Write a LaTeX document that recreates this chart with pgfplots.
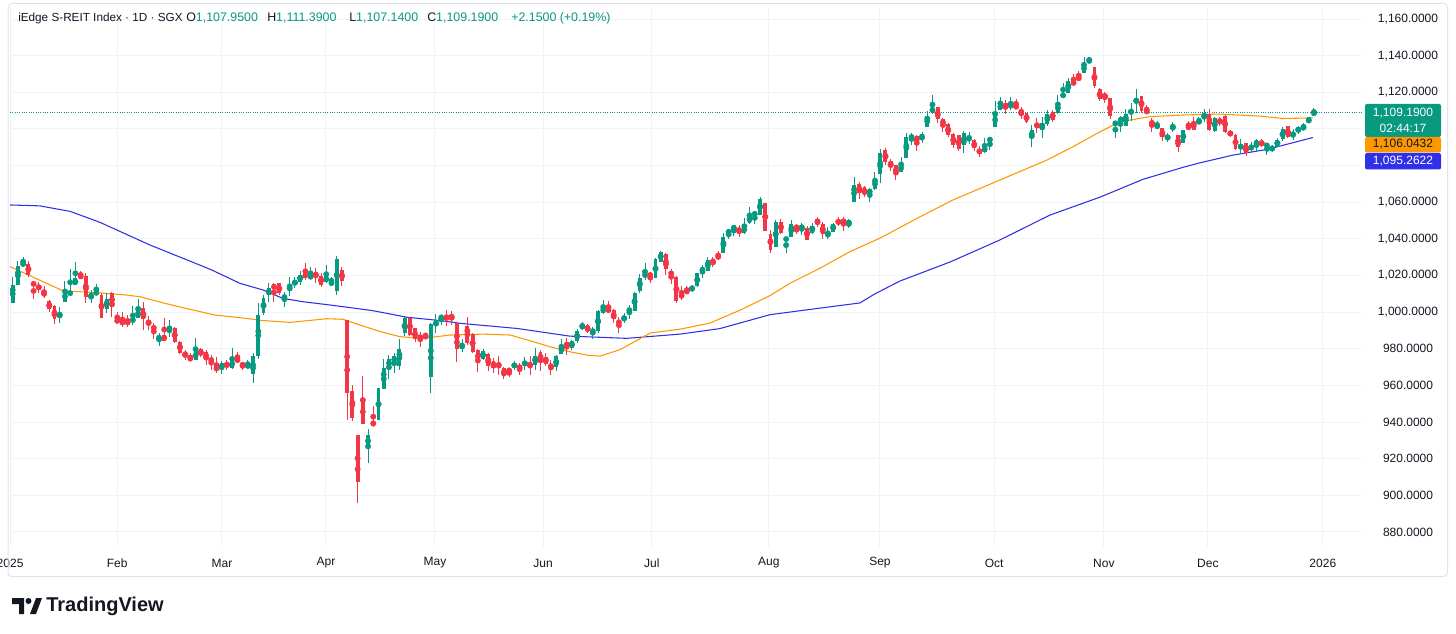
\documentclass[border=0pt]{standalone}
\usepackage{pgfplots}
\pgfplotsset{compat=1.18}
\usepackage{pgfplotstable}
\usepackage{fontspec}
\setmainfont{Liberation Sans}
\definecolor{upcol}{HTML}{089981}
\definecolor{dncol}{HTML}{F23645}
\definecolor{macol}{HTML}{FF9800}
\definecolor{mbcol}{HTML}{3030E8}
\definecolor{txt}{HTML}{131722}
\definecolor{gridc}{HTML}{F0F3FA}
\definecolor{framec}{HTML}{E0E3EB}

\pgfplotstableread{
i o h l c
0 1005.2 1019.0 1005.2 1014.8
1 1014.8 1028.1 1014.8 1025.2
2 1025.4 1030.3 1024.8 1027.2
3 1026.1 1028.1 1019.0 1020.5
4 1016.1 1016.1 1007.0 1014.8
5 1014.6 1016.6 1010.6 1012.5
6 1010.6 1014.3 1007.5 1009.4
7 1006.1 1006.6 1000.3 1001.5
8 1003.4 1003.9 993.5 996.1
9 997.9 1003.0 994.3 998.5
10 1005.7 1017.0 1005.7 1011.5
11 1009.2 1023.4 1009.2 1011.5
12 1014.8 1027.6 1014.8 1018.5
13 1021.2 1022.7 1017.9 1017.9
14 1019.7 1021.2 1004.8 1008.5
15 1008.6 1012.1 1004.8 1009.4
16 1009.4 1015.4 1009.4 1011.7
17 1009.4 1010.3 996.6 996.6
18 1001.5 1010.3 999.7 1007.0
19 1010.6 1011.2 997.5 1003.0
20 995.7 1000.3 993.9 994.8
21 994.8 1000.3 991.7 993.9
22 994.8 998.4 992.1 993.9
23 995.5 1003.3 993.0 995.9
24 996.6 1007.0 996.6 1002.1
25 1002.1 1005.7 990.2 996.1
26 995.3 997.9 990.2 993.5
27 991.7 993.9 985.1 991.2
28 985.1 988.8 981.5 987.0
29 987.5 996.6 984.4 984.4
30 988.4 995.7 986.6 991.7
31 991.2 991.7 983.3 983.9
32 983.9 984.4 977.1 977.9
33 978.4 979.3 973.9 975.7
34 976.0 977.5 973.0 973.5
35 973.9 985.7 973.9 979.0
36 979.7 980.2 975.3 976.6
37 978.4 979.3 971.1 974.2
38 974.0 976.6 968.4 973.7
39 970.6 975.3 966.9 968.0
40 968.8 973.5 966.2 972.0
41 971.7 973.9 968.4 971.1
42 969.3 980.2 968.8 974.2
43 974.2 978.4 972.4 973.5
44 972.4 973.0 968.4 970.2
45 970.2 973.9 969.3 971.1
46 966.2 977.9 961.1 976.1
47 976.1 1004.8 974.2 998.5
48 999.4 1009.4 998.5 1007.5
49 1009.4 1016.1 1005.7 1013.0
50 1015.2 1016.1 1005.7 1012.5
51 1015.7 1016.1 1009.4 1010.3
52 1008.0 1011.2 1003.0 1008.5
53 1011.7 1019.4 1008.8 1014.3
54 1014.8 1019.4 1013.0 1017.2
55 1016.6 1022.7 1014.8 1020.3
56 1021.7 1027.0 1017.6 1018.5
57 1017.9 1024.8 1017.6 1020.8
58 1020.8 1023.9 1016.1 1020.3
59 1019.7 1021.2 1013.9 1014.8
60 1016.6 1025.7 1015.7 1019.7
61 1015.7 1019.4 1014.8 1016.0
62 1011.7 1030.7 1009.4 1028.8
63 1023.0 1024.8 1014.3 1017.2
64 995.7 995.7 941.1 955.7
65 957.1 960.2 940.8 942.0
66 932.9 932.9 895.6 907.5
67 952.4 965.1 938.9 938.9
68 926.6 936.0 917.5 932.9
69 940.8 948.8 937.1 937.8
70 941.1 958.4 941.1 958.4
71 957.9 974.2 957.9 969.3
72 969.9 976.6 963.3 974.3
73 972.1 977.5 966.6 976.1
74 970.6 985.2 968.4 979.7
75 988.8 997.5 987.0 996.6
76 996.6 997.5 987.0 987.5
77 991.2 991.2 983.9 985.2
78 987.0 989.3 981.2 985.7
79 987.0 988.8 985.7 986.3
80 964.4 993.9 956.0 993.5
81 992.4 999.0 988.4 995.7
82 996.6 999.0 993.0 997.5
83 997.9 1001.2 992.4 996.6
84 997.9 1000.8 993.0 997.2
85 993.9 994.2 972.9 979.7
86 979.7 985.1 978.4 982.9
87 992.4 997.5 982.0 983.3
88 987.9 988.4 977.5 978.4
89 979.3 979.7 967.5 972.4
90 974.2 979.7 973.8 978.9
91 977.1 977.5 968.0 970.6
92 973.5 974.7 966.9 969.3
93 971.7 976.0 965.7 970.7
94 969.3 969.8 963.3 965.7
95 968.4 969.3 964.4 968.0
96 970.6 973.5 968.4 971.2
97 970.6 972.0 965.7 969.3
98 971.1 975.7 968.4 972.9
99 972.4 976.0 965.7 970.2
100 971.1 980.2 968.4 976.0
101 978.4 979.3 968.0 972.9
102 975.3 977.5 970.6 971.7
103 971.7 973.9 965.7 969.3
104 969.9 976.6 968.0 976.0
105 977.1 985.1 977.1 982.0
106 983.9 985.7 976.6 980.7
107 980.7 984.7 979.6 984.4
108 984.4 990.6 982.9 989.8
109 990.6 994.8 990.2 993.6
110 992.9 993.5 988.7 989.3
111 988.6 992.0 985.6 990.6
112 989.8 1001.1 988.4 1000.8
113 999.7 1006.6 999.0 1002.6
114 1002.0 1006.2 999.3 1000.2
115 1001.1 1001.5 993.8 996.0
116 994.8 997.1 988.7 994.2
117 995.3 999.3 994.2 997.8
118 1000.2 1003.8 996.0 1002.0
119 1000.8 1011.1 1000.8 1010.2
120 1011.7 1020.8 1010.6 1018.4
121 1019.7 1026.6 1017.5 1020.8
122 1020.8 1022.0 1015.7 1019.7
123 1018.4 1029.3 1018.4 1028.8
124 1027.5 1033.5 1027.5 1033.0
125 1031.7 1032.1 1020.2 1023.3
126 1022.6 1023.3 1015.3 1019.7
127 1019.0 1019.7 1005.1 1006.2
128 1009.9 1014.2 1006.9 1008.0
129 1012.0 1014.2 1009.9 1010.6
130 1011.7 1014.8 1011.1 1014.2
131 1014.2 1021.1 1013.9 1021.1
132 1022.0 1025.7 1018.4 1024.4
133 1022.6 1029.9 1022.6 1028.4
134 1028.4 1029.9 1024.4 1027.0
135 1031.1 1033.5 1028.4 1029.3
136 1032.4 1043.0 1032.4 1041.2
137 1043.3 1045.2 1039.7 1044.4
138 1044.4 1047.5 1041.5 1047.5
139 1045.7 1047.5 1040.8 1043.9
140 1043.3 1051.2 1042.6 1047.0
141 1048.8 1057.5 1048.1 1052.4
142 1053.0 1054.8 1048.1 1054.3
143 1053.0 1062.6 1053.0 1061.5
144 1059.7 1059.7 1044.4 1044.4
145 1042.6 1044.8 1032.4 1033.9
146 1035.3 1050.3 1035.3 1049.4
147 1049.4 1050.6 1042.6 1043.0
148 1039.0 1040.8 1032.4 1040.8
149 1041.2 1050.3 1041.2 1048.1
150 1047.0 1047.5 1042.6 1045.7
151 1045.2 1048.8 1042.1 1047.5
152 1045.7 1047.0 1039.3 1039.3
153 1043.0 1048.8 1042.6 1047.0
154 1050.6 1051.7 1046.3 1048.5
155 1048.1 1049.4 1039.7 1042.6
156 1042.0 1046.3 1039.7 1042.6
157 1043.9 1048.8 1043.9 1048.1
158 1049.9 1051.7 1047.0 1048.5
159 1049.9 1052.1 1044.4 1049.3
160 1047.5 1050.6 1045.7 1050.3
161 1060.3 1073.6 1060.3 1069.4
162 1069.9 1071.2 1061.5 1065.2
163 1068.5 1068.8 1062.6 1063.9
164 1064.5 1067.6 1060.3 1067.0
165 1067.0 1076.7 1066.7 1073.0
166 1075.4 1088.9 1070.7 1087.0
167 1088.5 1089.4 1080.3 1082.1
168 1082.7 1083.4 1077.2 1079.0
169 1080.3 1080.3 1072.1 1074.8
170 1076.6 1084.5 1076.6 1080.8
171 1083.9 1097.9 1083.9 1095.4
172 1095.4 1097.9 1091.2 1095.8
173 1096.1 1096.7 1088.1 1092.5
174 1094.3 1098.5 1092.1 1097.2
175 1101.2 1110.0 1101.2 1107.0
176 1108.9 1118.5 1108.1 1111.8
177 1111.8 1111.8 1103.4 1105.2
178 1105.2 1105.8 1098.5 1102.1
179 1102.7 1103.0 1095.4 1096.7
180 1097.2 1097.9 1089.4 1091.2
181 1096.7 1096.7 1088.1 1088.8
182 1091.2 1099.0 1087.0 1097.6
183 1094.5 1098.5 1091.7 1094.9
184 1093.9 1094.3 1088.1 1089.4
185 1088.8 1090.7 1084.8 1086.7
186 1087.6 1094.9 1086.7 1090.3
187 1094.0 1094.9 1088.5 1094.3
188 1100.9 1115.5 1100.9 1109.0
189 1110.3 1117.6 1110.3 1114.0
190 1114.3 1115.8 1108.2 1111.2
191 1111.8 1117.3 1110.3 1113.6
192 1112.5 1116.2 1111.2 1111.8
193 1110.3 1111.8 1105.2 1108.5
194 1108.5 1108.9 1103.1 1104.0
195 1094.9 1102.1 1090.0 1099.4
196 1103.1 1105.8 1098.0 1100.9
197 1100.3 1106.7 1094.9 1103.4
198 1102.7 1110.3 1101.6 1108.2
199 1109.4 1110.3 1104.0 1104.9
200 1108.9 1118.5 1108.2 1114.0
201 1117.6 1125.3 1117.6 1119.1
202 1119.4 1127.6 1119.4 1126.4
203 1125.8 1130.0 1124.0 1124.5
204 1128.2 1131.8 1126.4 1127.1
205 1130.4 1139.5 1130.4 1135.8
206 1135.8 1139.5 1135.8 1138.5
207 1133.6 1133.6 1122.2 1123.4
208 1121.6 1122.2 1115.4 1116.2
209 1118.5 1120.3 1114.3 1117.6
210 1116.7 1116.7 1105.2 1107.0
211 1101.6 1104.5 1094.8 1104.5
212 1103.4 1107.0 1098.5 1106.3
213 1101.6 1110.7 1101.6 1108.1
214 1108.1 1114.3 1104.5 1110.7
215 1114.3 1121.6 1108.9 1116.7
216 1118.0 1118.0 1108.9 1110.0
217 1110.3 1113.1 1108.1 1108.9
218 1103.9 1105.8 1098.5 1102.7
219 1100.3 1104.5 1099.8 1102.7
220 1100.3 1100.3 1093.6 1095.4
221 1093.9 1097.9 1093.0 1096.7
222 1099.8 1103.9 1098.5 1101.6
223 1096.7 1096.7 1087.6 1090.3
224 1092.5 1099.4 1092.5 1099.4
225 1101.6 1104.5 1099.4 1100.3
226 1103.9 1106.3 1099.4 1099.4
227 1103.0 1106.3 1102.7 1104.8
228 1105.2 1110.7 1103.9 1108.1
229 1108.1 1110.7 1099.0 1099.2
230 1098.8 1106.3 1098.5 1105.8
231 1104.8 1106.6 1101.5 1103.9
232 1107.0 1107.5 1097.9 1098.5
233 1098.5 1099.4 1095.7 1096.6
234 1096.6 1097.2 1088.4 1088.8
235 1088.8 1094.3 1086.6 1091.7
236 1092.1 1092.1 1085.2 1087.0
237 1088.4 1093.0 1087.0 1091.2
238 1090.6 1094.3 1088.1 1093.9
239 1092.5 1094.3 1090.3 1091.7
240 1090.3 1092.5 1085.7 1091.7
241 1088.1 1091.2 1087.5 1090.6
242 1090.3 1094.8 1089.9 1093.9
243 1094.3 1100.8 1093.5 1099.7
244 1101.5 1101.5 1094.8 1095.7
245 1095.7 1099.7 1093.9 1098.5
246 1098.9 1101.5 1097.5 1100.3
247 1099.4 1103.4 1099.0 1102.1
248 1103.0 1106.6 1103.0 1106.3
249 1107.95 1111.39 1107.14 1109.19
}\candles

\begin{document}
\begin{tikzpicture}
\useasboundingbox (0,0) rectangle (1092pt,474.75pt);
\fill[white] (0,0) rectangle (1092pt,474.75pt);
\begin{axis}[
  at={(7.5pt,64.5pt)}, anchor=south west,
  scale only axis, width=1014pt, height=405.75pt,
  xmin=-0.517, xmax=258.2, ymin=871.8, ymax=1167.1,
  axis line style={draw=none}, tick style={draw=none},
  xtick={-0.5,20.0,40.05,59.95,80.8,101.5,122.3,144.7,165.96,187.8,208.8,228.7,250.7},
  xticklabels={2025,Feb,Mar,Apr,May,Jun,Jul,Aug,Sep,Oct,Nov,Dec,2026},
  ytick={880,900,920,940,960,980,1000,1020,1040,1060,1120,1140,1160},
  extra y ticks={1080,1100}, extra y tick labels={},
  extra tick style={grid=major},
  yticklabel pos=right,
  grid=major, grid style={gridc, line width=0.75pt},
  ticklabel style={font=\fontsize{9}{11}\selectfont, text=txt},
  xticklabel style={anchor=center, yshift=-12pt},
  yticklabel style={anchor=center, xshift=34.5pt,
    /pgf/number format/fixed, /pgf/number format/fixed zerofill,
    /pgf/number format/precision=4, /pgf/number format/1000 sep={,},
    /pgf/number format/assume math mode=true},
  scaled y ticks=false,
]
% moving averages
\addplot[mbcol, line width=0.8pt, line join=round] coordinates {
(-0.5,1058.5) (5.2,1058.0) (11.0,1055.0) (16.7,1049.0) (26.3,1036.6) (35.8,1025.7)
(38.1,1023.0) (43.5,1015.7) (47.9,1012.1) (51.7,1007.5) (55.5,1005.7) (60.7,1003.9)
(64.5,1002.5) (68.9,1000.8) (75.5,997.2) (81.8,995.4) (85.6,993.9) (96.5,991.1)
(106.6,986.9) (117.5,985.7) (127.7,988.0) (135.3,991.0) (144.9,998.6) (154.5,1002.2)
(162.1,1005.0) (165.0,1010.0) (169.8,1017.0) (179.4,1027.4) (188.9,1039.4) (198.5,1053.0)
(208.1,1062.8) (216.3,1072.5) (223.9,1079.0) (227.2,1081.5) (233.5,1085.7) (240.0,1088.8)
(248.8,1095.3)};
\addplot[macol, line width=0.8pt, line join=round] coordinates {
(-0.5,1024.8) (9.6,1011.7) (16.1,1010.6) (21.5,1009.4) (24.4,1008.4) (29.1,1004.8)
(34.0,1001.5) (38.7,998.4) (43.5,997.0) (47.9,995.4) (53.1,994.4) (60.1,996.4)
(63.2,996.1) (66.4,993.0) (70.3,989.4) (74.1,986.6) (78.5,985.7) (83.7,987.5)
(90.0,988.0) (95.2,987.5) (99.6,983.9) (102.8,981.1) (106.6,978.4) (110.0,976.5)
(112.4,976.0) (116.2,979.5) (122.0,988.6) (127.7,990.7) (133.4,994.0) (139.2,1001.1)
(144.9,1009.0) (148.7,1015.7) (154.5,1024.0) (160.2,1033.0) (165.9,1040.3) (173.6,1052.0)
(179.9,1061.2) (188.9,1072.1) (197.9,1083.0) (202.9,1090.3) (208.1,1098.5) (211.9,1103.9)
(217.6,1106.7) (223.9,1107.6) (231.0,1108.1) (238.7,1107.0) (243.1,1105.7) (248.8,1106.0)};
% last price line
\addplot[upcol, densely dotted, line width=0.75pt] coordinates {(-0.517,1109.19) (258.2,1109.19)};
% up candles
\addplot[upcol, only marks, mark=none,
  restrict expr to domain={\thisrow{c}-\thisrow{o}}{0:1000},
  error bars/.cd, y dir=both, y explicit, error mark=none,
  error bar style={line width=0.75pt, solid}]
  table[x=i, y expr={(\thisrow{h}+\thisrow{l})/2}, y error expr={(\thisrow{h}-\thisrow{l})/2}] {\candles};
\addplot[upcol, only marks, mark=none,
  restrict expr to domain={\thisrow{c}-\thisrow{o}}{0:1000},
  error bars/.cd, y dir=both, y explicit, error mark=none,
  error bar style={line width=2.9pt, solid}]
  table[x=i, y expr={(\thisrow{o}+\thisrow{c})/2}, y error expr={max(abs(\thisrow{c}-\thisrow{o})/2,0.3)}] {\candles};
% down candles
\addplot[dncol, only marks, mark=none,
  restrict expr to domain={\thisrow{o}-\thisrow{c}}{0.001:1000},
  error bars/.cd, y dir=both, y explicit, error mark=none,
  error bar style={line width=0.75pt, solid}]
  table[x=i, y expr={(\thisrow{h}+\thisrow{l})/2}, y error expr={(\thisrow{h}-\thisrow{l})/2}] {\candles};
\addplot[dncol, only marks, mark=none,
  restrict expr to domain={\thisrow{o}-\thisrow{c}}{0.001:1000},
  error bars/.cd, y dir=both, y explicit, error mark=none,
  error bar style={line width=2.9pt, solid}]
  table[x=i, y expr={(\thisrow{o}+\thisrow{c})/2}, y error expr={max(abs(\thisrow{c}-\thisrow{o})/2,0.3)}] {\candles};
\end{axis}

\begin{scope}[x=0.75pt,y=-0.75pt,shift={(0pt,474.75pt)}]
% outer frame
\draw[framec, line width=0.75pt, rounded corners=3pt] (8,3.5) rectangle (1447.5,576.5);
% header
\node[anchor=west, inner sep=0pt, text=txt, font=\fontsize{8.8}{11}\selectfont] at (18,18) {iEdge S-REIT Index · 1D · SGX};
\node[anchor=west, inner sep=0pt, font=\fontsize{9.3}{11}\selectfont] at (186,18) {\textcolor{txt}{O}\textcolor{upcol}{1,107.9500}};
\node[anchor=west, inner sep=0pt, font=\fontsize{9.3}{11}\selectfont] at (267,18) {\textcolor{txt}{H}\textcolor{upcol}{1,111.3900}};
\node[anchor=west, inner sep=0pt, font=\fontsize{9.3}{11}\selectfont] at (349,18) {\textcolor{txt}{L}\textcolor{upcol}{1,107.1400}};
\node[anchor=west, inner sep=0pt, font=\fontsize{9.3}{11}\selectfont] at (427,18) {\textcolor{txt}{C}\textcolor{upcol}{1,109.1900}};
\node[anchor=west, inner sep=0pt, font=\fontsize{9.3}{11}\selectfont, text=upcol] at (511,18) {+2.1500 (+0.19\%)};
% price boxes
\fill[upcol, rounded corners=1.5pt] (1365,104) rectangle (1441,137);
\node[text=white, font=\fontsize{9}{10}\selectfont, inner sep=0pt] at (1403,113.5) {1,109.1900};
\node[text=white, font=\fontsize{9}{10}\selectfont, inner sep=0pt] at (1403,128) {02:44:17};
\fill[macol, rounded corners=1.5pt] (1365,137) rectangle (1441,152.5);
\node[text=txt, font=\fontsize{9}{10}\selectfont, inner sep=0pt] at (1403,144.5) {1,106.0432};
\fill[mbcol, rounded corners=1.5pt] (1365,153) rectangle (1441,169.5);
\node[text=white, font=\fontsize{9}{10}\selectfont, inner sep=0pt] at (1403,161.5) {1,095.2622};
% TradingView logo
\fill[txt] (12,598) -- (24,598) -- (24,614) -- (19,614) -- (19,604) -- (12,604) -- cycle;
\fill[txt] (28.5,601) circle (3);
\fill[txt] (36,598) -- (42,598) -- (36,614) -- (30,614) -- cycle;
\node[anchor=west, inner sep=0pt, text=txt, font=\fontsize{15}{18}\selectfont\bfseries] at (46,606.5) {TradingView};
\end{scope}
\end{tikzpicture}
\end{document}
